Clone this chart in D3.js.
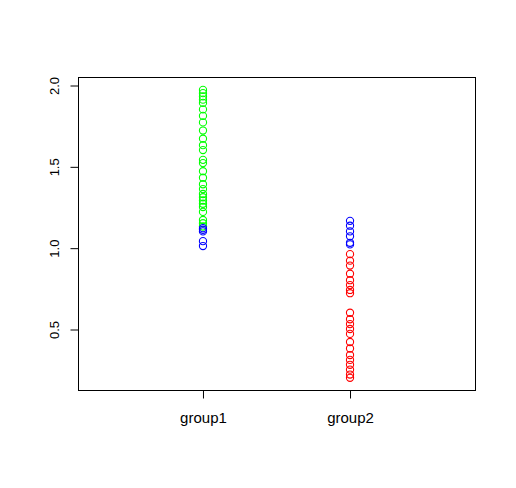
<!DOCTYPE html>
<html>
<head>
<meta charset="utf-8">
<script src="https://cdn.jsdelivr.net/npm/d3@7"></script>
<style>
  body { margin: 0; background: #fff; }
  svg { display: block; font-family: "Liberation Sans", Arial, sans-serif; }
</style>
</head>
<body>
<div id="chart"></div>
<script>
// categories and values
var groups = ["group1", "group2"];
var g1Green = [1.97, 1.95, 1.93, 1.91, 1.89, 1.85, 1.81, 1.77, 1.72, 1.67, 1.63, 1.60, 1.54,
               1.52, 1.47, 1.43, 1.39, 1.36, 1.33, 1.31, 1.29, 1.27, 1.25, 1.22, 1.17, 1.15, 1.13];
var g1Blue = [1.12, 1.11, 1.10, 1.04, 1.01];
var g2Blue = [1.165, 1.135, 1.10, 1.07, 1.03, 1.02];
var g2Red = [0.96, 0.92, 0.89, 0.84, 0.80, 0.77, 0.74, 0.72, 0.60, 0.56, 0.53, 0.50, 0.47,
             0.42, 0.38, 0.34, 0.31, 0.28, 0.25, 0.22, 0.20];
var yTicks = [0.5, 1.0, 1.5, 2.0];

var points = [];
g1Green.forEach(function(v) { points.push({g: 1, v: v, c: "#00ff00"}); });
g1Blue.forEach(function(v) { points.push({g: 1, v: v, c: "#0000ff"}); });
g2Blue.forEach(function(v) { points.push({g: 2, v: v, c: "#0000ff"}); });
g2Red.forEach(function(v) { points.push({g: 2, v: v, c: "#ff0000"}); });

var W = 516, H = 488;
var box = {left: 78, right: 475, top: 77, bottom: 390};

var svg = d3.select("#chart").append("svg")
  .attr("width", W)
  .attr("height", H);

var x = d3.scaleLinear()
  .domain([0.15, 2.85])
  .range([box.left, box.right]);

var y = d3.scaleLinear()
  .domain([0.5, 2.0])
  .range([329, 85]);

// points
svg.selectAll("circle.pt")
  .data(points)
  .enter()
  .append("circle")
    .attr("class", "pt")
    .attr("cx", function(d) { return x(d.g); })
    .attr("cy", function(d) { return y(d.v); })
    .attr("r", 3.6)
    .style("fill", "none")
    .style("stroke", function(d) { return d.c; })
    .style("stroke-width", 1.1);

// plot box
svg.append("rect")
  .attr("x", box.left + 0.5)
  .attr("y", box.top + 0.5)
  .attr("width", box.right - box.left)
  .attr("height", box.bottom - box.top)
  .style("fill", "none")
  .style("stroke", "#000")
  .style("stroke-width", 1);

// y axis
var yAxis = svg.append("g")
  .attr("transform", "translate(" + (box.left + 0.5) + ",0.5)")
  .call(d3.axisLeft(y).tickValues(yTicks).tickFormat(d3.format(".1f")).tickSize(8).tickSizeOuter(0));
yAxis.select(".domain").remove();
yAxis.selectAll("line").style("stroke", "#000");
yAxis.selectAll("text")
  .attr("x", 0).attr("y", 0)
  .attr("dy", "0.35em")
  .attr("transform", "translate(-24,0) rotate(-90)")
  .style("text-anchor", "middle")
  .style("font-size", "13px")
  .style("fill", "#000");

// x axis
var xAxis = svg.append("g")
  .attr("transform", "translate(0," + (box.bottom + 0.5) + ")")
  .call(d3.axisBottom(x).tickValues([1, 2])
    .tickFormat(function(d) { return groups[d - 1]; })
    .tickSize(8).tickSizeOuter(0));
xAxis.select(".domain").remove();
xAxis.selectAll("line").style("stroke", "#000");
xAxis.selectAll("text")
  .attr("y", 22)
  .style("font-size", "15px")
  .style("fill", "#000");
</script>
</body>
</html>
